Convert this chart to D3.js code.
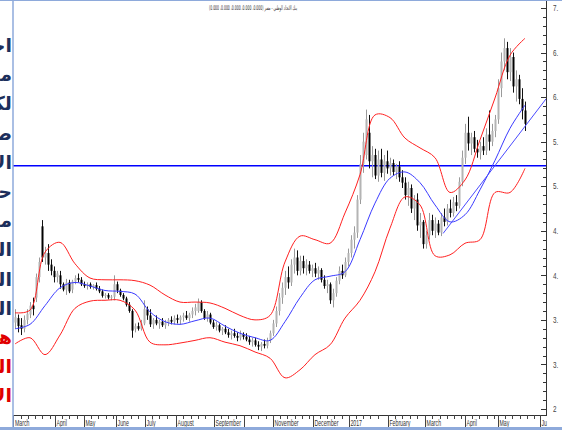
<!DOCTYPE html>
<html>
<head>
<meta charset="utf-8">
<script src="https://cdn.jsdelivr.net/npm/d3@7"></script>
<style>
  body { margin: 0; background: #fff; }
  svg { display: block; }
</style>
</head>
<body>
<div id="chart"></div>
<script>
// ---- donnees (1 barre = ~2 seances) ----
var opens = [3.47,3.52,3.44,3.40,3.50,3.56,3.66,3.75,3.98,4.55,4.20,4.25,4.12,4.05,
  3.98,4.00,3.90,3.84,3.92,3.84,3.93,3.97,3.95,3.90,
  3.88,3.90,3.87,3.89,3.85,3.82,3.77,3.78,3.75,3.76,
  3.90,3.83,3.78,3.74,3.67,3.60,3.40,3.43,3.40,3.46,
  3.62,3.55,3.45,3.50,3.46,3.48,3.44,3.47,3.50,3.48,
  3.52,3.50,3.53,3.55,3.52,3.56,3.60,3.60,3.70,3.60,3.52,3.56,3.47,
  3.42,3.44,3.38,3.40,3.36,3.33,3.35,3.32,3.30,3.34,
  3.31,3.28,3.25,3.27,3.22,3.20,3.23,3.21,3.27,3.35,
  3.46,3.60,3.75,3.86,3.98,3.92,4.12,4.20,4.05,4.16,4.08,4.12,4.05,
  4.08,4.02,4.06,3.95,3.88,3.90,3.72,3.80,3.94,4.05,4.00,4.15,
  4.25,4.40,4.48,4.85,5.25,5.35,5.60,5.28,5.35,5.12,5.30,5.15,5.28,
  5.20,5.26,5.16,5.22,5.10,5.04,4.90,4.98,4.75,4.85,4.56,4.60,
  4.35,4.45,4.62,4.50,4.58,4.48,4.65,4.60,4.75,4.70,4.82,4.78,5.05,
  5.32,5.60,5.48,5.55,5.42,5.38,5.45,5.40,5.58,5.50,5.62,
  5.75,6.10,6.40,6.55,6.28,6.45,6.12,6.20,5.98,5.85];
var highs = [3.62,3.56,3.52,3.55,3.62,3.70,3.75,4.02,4.20,4.62,4.32,4.35,4.18,4.10,
  4.05,4.05,3.92,3.96,3.95,3.95,4.00,4.02,3.98,3.93,
  3.92,3.92,3.90,3.92,3.88,3.84,3.80,3.80,3.78,4.00,
  3.93,3.85,3.80,3.76,3.70,3.62,3.46,3.47,3.50,3.72,
  3.65,3.62,3.52,3.55,3.50,3.52,3.50,3.52,3.54,3.55,
  3.56,3.55,3.58,3.60,3.58,3.64,3.68,3.74,3.72,3.62,3.60,3.58,3.50,
  3.48,3.46,3.42,3.44,3.40,3.38,3.40,3.36,3.38,3.36,
  3.35,3.32,3.30,3.30,3.26,3.25,3.28,3.30,3.38,3.50,
  3.65,3.80,3.92,4.05,4.10,4.18,4.30,4.28,4.22,4.22,4.18,4.16,4.12,
  4.14,4.10,4.08,4.00,3.95,3.92,3.85,3.98,4.10,4.12,4.20,4.30,
  4.45,4.55,4.90,5.35,5.60,5.86,5.80,5.45,5.42,5.40,5.42,5.35,5.40,
  5.32,5.30,5.25,5.28,5.18,5.10,5.05,5.02,4.90,4.92,4.70,4.62,
  4.50,4.70,4.68,4.65,4.62,4.70,4.75,4.80,4.85,4.88,4.90,5.10,5.40,
  5.70,5.78,5.60,5.62,5.52,5.50,5.55,5.65,5.85,5.70,5.80,
  6.20,6.50,6.66,6.62,6.55,6.50,6.30,6.25,6.10,5.95];
var lows = [3.40,3.36,3.33,3.36,3.45,3.52,3.55,3.70,3.92,4.15,4.12,4.05,4.00,3.92,
  3.92,3.85,3.82,3.78,3.80,3.80,3.90,3.92,3.88,3.86,
  3.84,3.85,3.84,3.83,3.80,3.75,3.74,3.73,3.72,3.72,
  3.80,3.76,3.72,3.65,3.58,3.30,3.36,3.38,3.38,3.44,
  3.50,3.42,3.40,3.44,3.40,3.42,3.40,3.43,3.45,3.45,
  3.46,3.45,3.48,3.50,3.48,3.52,3.55,3.58,3.58,3.50,3.48,3.45,3.40,
  3.38,3.36,3.33,3.34,3.30,3.28,3.30,3.26,3.27,3.28,
  3.26,3.22,3.20,3.20,3.16,3.15,3.18,3.18,3.24,3.32,
  3.42,3.55,3.68,3.78,3.85,3.88,4.02,4.00,4.00,4.02,4.00,4.02,3.98,
  3.98,3.95,3.92,3.85,3.80,3.68,3.64,3.76,3.90,3.96,3.98,4.10,
  4.20,4.30,4.42,4.80,5.15,5.30,5.20,5.10,5.08,5.05,5.10,5.06,5.14,
  5.12,5.12,5.08,5.05,4.98,4.85,4.78,4.70,4.62,4.50,4.42,4.30,
  4.30,4.40,4.45,4.42,4.45,4.44,4.55,4.56,4.65,4.66,4.72,4.75,5.00,
  5.25,5.40,5.35,5.38,5.32,5.30,5.35,5.35,5.40,5.45,5.55,
  5.70,6.00,6.30,6.20,6.18,6.05,5.95,5.92,5.75,5.62];
var closes = [3.53,3.43,3.40,3.50,3.57,3.66,3.62,3.98,4.15,4.20,4.25,4.12,4.05,3.98,
  4.02,3.90,3.84,3.92,3.82,3.93,3.97,3.95,3.90,3.88,
  3.90,3.87,3.89,3.85,3.82,3.77,3.78,3.75,3.76,3.90,
  3.83,3.78,3.74,3.67,3.60,3.38,3.43,3.40,3.46,3.62,
  3.55,3.45,3.50,3.46,3.48,3.44,3.47,3.50,3.48,3.52,
  3.50,3.53,3.55,3.52,3.56,3.60,3.64,3.70,3.60,3.52,3.56,3.47,3.42,
  3.44,3.38,3.40,3.36,3.33,3.35,3.32,3.30,3.34,3.31,
  3.28,3.25,3.27,3.22,3.20,3.23,3.21,3.27,3.35,3.46,
  3.60,3.75,3.86,3.98,3.92,4.12,4.20,4.05,4.16,4.08,4.12,4.05,4.08,
  4.02,4.06,3.95,3.88,3.90,3.72,3.80,3.94,4.05,4.00,4.15,4.25,
  4.40,4.48,4.85,5.25,5.50,5.75,5.28,5.35,5.12,5.30,5.15,5.28,5.20,
  5.26,5.16,5.22,5.10,5.04,4.90,4.98,4.75,4.85,4.56,4.60,4.35,
  4.45,4.62,4.50,4.58,4.48,4.65,4.60,4.75,4.70,4.82,4.78,5.05,5.32,
  5.60,5.48,5.55,5.42,5.38,5.45,5.40,5.58,5.50,5.62,5.75,
  6.10,6.40,6.55,6.28,6.45,6.12,6.20,5.98,5.85,5.70];

// bandes de Bollinger, une valeur toutes les 5 barres
var bandIdx = d3.range(0, 171, 5);
var bandUpper = [3.58,3.61,4.26,4.37,4.13,3.97,3.95,3.95,3.94,3.89,3.78,3.70,3.70,3.69,3.63,3.55,3.50,3.55,
  4.15,4.44,4.40,4.36,4.70,5.13,5.80,5.77,5.54,5.43,5.32,4.93,5.07,5.52,5.99,6.47,6.66];
var bandMid = [3.40,3.45,3.66,3.86,3.92,3.88,3.83,3.82,3.79,3.59,3.48,3.45,3.49,3.52,3.43,3.35,3.30,3.27,
  3.48,3.75,3.95,3.99,4.04,4.40,4.81,5.09,5.16,5.04,4.79,4.60,4.68,4.96,5.29,5.65,5.91];
var bandLower = [3.23,3.30,3.11,3.33,3.63,3.71,3.72,3.72,3.61,3.25,3.22,3.24,3.27,3.30,3.25,3.21,3.14,3.07,
  2.85,2.94,3.11,3.22,3.52,3.72,4.04,4.53,4.88,4.79,4.22,4.23,4.36,4.40,4.93,4.93,5.20];

var resistance = 5.23;
var trendLine = [{i: 142.7, v: 4.47}, {i: 177, v: 5.98}];

// axes
var monthPos = [-0.5, 13.3, 23, 33.7, 43.3, 53.7, 66.3, 76.3, 86, 99.3, 111.3, 124.3, 136.7, 150, 161, 175];
var monthLabels = ["March","April","May","June","July","August","September","","November","December","2017","February","March","April","May","Ju"];
var yTickValues = [7.0, 6.5, 6.0, 5.5, 5.0, 4.5, 4.0, 3.5, 3.0, 2.5];
var yTickLabels = ["7.", "6.", "6.", "5.", "5.", "4.", "4.", "3.", "3.", "2"];

var titre = "بنك الاتحاد الوطني - مصر (0.000، 0.000، 0.000، 0.000، 0.000)";
var texteGauche = ["احمد","مصر","لكن","صعود","الاتجاه","حيث","مستوى","السهم","التداول","الدعم","هدف","الدخول","الاتجاه"];
var texteRouge = [false,false,false,false,false,false,false,false,false,false,true,true,true];

// ---- dessin ----
var W = 562, H = 430;
var svg = d3.select("#chart").append("svg")
  .attr("width", W)
  .attr("height", H);

var x = d3.scaleLinear().domain([0, 177]).range([15, 546]);
var y = d3.scaleLinear().domain([2.5, 7]).range([409, 8]);

svg.append("defs").append("clipPath").attr("id", "plot")
  .append("rect").attr("x", 13).attr("y", 0).attr("width", 533).attr("height", 415);

var plot = svg.append("g").attr("clip-path", "url(#plot)");

// ligne horizontale
plot.append("line")
  .attr("x1", 13).attr("x2", 546)
  .attr("y1", y(resistance)).attr("y2", y(resistance))
  .attr("stroke", "#0000ff").attr("stroke-width", 1.3);

// bougies
var bars = d3.range(opens.length);
var up = i => closes[i] >= opens[i];
plot.append("g").selectAll("line")
  .data(bars)
  .enter()
  .append("line")
    .attr("x1", i => x(i) + 0.5).attr("x2", i => x(i) + 0.5)
    .attr("y1", i => y(highs[i])).attr("y2", i => y(lows[i]))
    .attr("stroke", i => up(i) ? "#9a9a9a" : "#111");
plot.append("g").selectAll("rect")
  .data(bars)
  .enter()
  .append("rect")
    .attr("x", i => x(i) - 0.5)
    .attr("width", 2)
    .attr("y", i => y(Math.max(opens[i], closes[i])))
    .attr("height", i => Math.max(1, Math.abs(y(opens[i]) - y(closes[i]))))
    .attr("fill", i => up(i) ? "#b4b4b4" : "#000");

// bandes
var bandLine = d3.line()
  .x((d, k) => x(bandIdx[k]))
  .y(d => y(d))
  .curve(d3.curveCatmullRom);
plot.append("path").attr("d", bandLine(bandUpper))
  .attr("fill", "none").attr("stroke", "#ff2020").attr("stroke-width", 1);
plot.append("path").attr("d", bandLine(bandLower))
  .attr("fill", "none").attr("stroke", "#ff2020").attr("stroke-width", 1);
plot.append("path").attr("d", bandLine(bandMid))
  .attr("fill", "none").attr("stroke", "#3a3aff").attr("stroke-width", 1);

// droite de tendance
plot.append("path")
  .attr("d", d3.line().x(d => x(d.i)).y(d => y(d.v))(trendLine))
  .attr("fill", "none").attr("stroke", "#4a4aff").attr("stroke-width", 1);

// axe droit
var yAxis = svg.append("g");
yAxis.append("line")
  .attr("x1", 546.5).attr("x2", 546.5).attr("y1", 0).attr("y2", 416)
  .attr("stroke", "#333");
yAxis.selectAll("line.minor")
  .data(d3.range(25, 71).map(d => d / 10))
  .enter()
  .append("line")
    .attr("class", "minor")
    .attr("x1", 543).attr("x2", 546)
    .attr("y1", d => Math.round(y(d)) + 0.5).attr("y2", d => Math.round(y(d)) + 0.5)
    .attr("stroke", "#333");
yAxis.selectAll("line.major")
  .data(yTickValues)
  .enter()
  .append("line")
    .attr("class", "major")
    .attr("x1", 541).attr("x2", 546)
    .attr("y1", d => Math.round(y(d)) + 0.5).attr("y2", d => Math.round(y(d)) + 0.5)
    .attr("stroke", "#333");
yAxis.selectAll("text")
  .data(yTickValues)
  .enter()
  .append("text")
    .attr("transform", d => `translate(553,${y(d)}) scale(0.7,1)`)
    .attr("dy", "0.35em")
    .attr("font-family", "Liberation Sans, sans-serif")
    .attr("font-size", 9)
    .attr("fill", "#444")
    .text((d, k) => yTickLabels[k]);

// axe bas
var xAxis = svg.append("g");
xAxis.append("line")
  .attr("x1", 13).attr("x2", 547).attr("y1", 415.5).attr("y2", 415.5)
  .attr("stroke", "#333");
var weekTicks = [];
for (var m = 0; m < monthPos.length - 1; m++) {
  d3.range(monthPos[m] + 2.4, monthPos[m + 1] - 1, 2.4).forEach(t => weekTicks.push(t));
}
xAxis.selectAll("line.week")
  .data(weekTicks)
  .enter()
  .append("line")
    .attr("class", "week")
    .attr("x1", d => Math.round(x(d)) + 0.5).attr("x2", d => Math.round(x(d)) + 0.5)
    .attr("y1", 415).attr("y2", 419)
    .attr("stroke", "#444");
xAxis.selectAll("line.month")
  .data(monthPos)
  .enter()
  .append("line")
    .attr("class", "month")
    .attr("x1", d => Math.round(x(d)) + 0.5).attr("x2", d => Math.round(x(d)) + 0.5)
    .attr("y1", 415).attr("y2", 428)
    .attr("stroke", "#444");
xAxis.selectAll("text")
  .data(monthPos)
  .enter()
  .append("text")
    .attr("transform", d => `translate(${x(d) + 1.5},426) scale(0.58,1)`)
    .attr("font-family", "Liberation Sans, sans-serif")
    .attr("font-size", 9)
    .attr("fill", "#333")
    .text((d, k) => monthLabels[k]);

// cadre bleu clair
svg.append("line").attr("x1", 13).attr("x2", 13).attr("y1", 0).attr("y2", 430)
  .attr("stroke", "#8eaadb").attr("stroke-width", 1.5);
svg.append("line").attr("x1", 0).attr("x2", W).attr("y1", 0.5).attr("y2", 0.5)
  .attr("stroke", "#8eaadb");
svg.append("rect").attr("x", 0).attr("y", 427).attr("width", W).attr("height", 3)
  .attr("fill", "#8eaadb");

// titre
svg.append("text")
  .attr("x", 297).attr("y", 10)
  .attr("text-anchor", "start")
  .attr("direction", "rtl")
  .attr("textLength", 88)
  .attr("lengthAdjust", "spacingAndGlyphs")
  .attr("font-family", "DejaVu Sans, sans-serif")
  .attr("font-size", 6.5)
  .attr("fill", "#333")
  .text(titre);

// texte arabe coupe a gauche
svg.append("g")
  .attr("font-family", "DejaVu Sans, sans-serif")
  .attr("font-weight", "bold")
  .attr("font-size", 19)
  .selectAll("text")
  .data(texteGauche)
  .enter()
  .append("text")
    .attr("x", 12)
    .attr("y", (d, k) => 52 + k * 29.2)
    .attr("text-anchor", "end")
    .attr("fill", (d, k) => texteRouge[k] ? "#e00000" : "#1d2f5c")
    .text(d => d);
</script>
</body>
</html>
